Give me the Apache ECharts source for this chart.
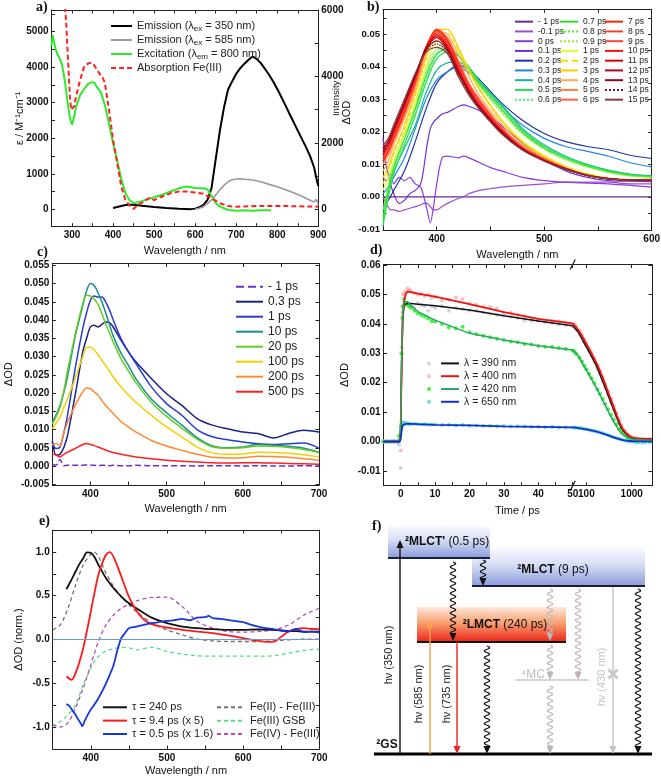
<!DOCTYPE html>
<html><head><meta charset="utf-8">
<script src="https://cdn.jsdelivr.net/npm/echarts@6/dist/echarts.min.js"></script>
<style>html,body{margin:0;padding:0;background:#fff}#c{width:661px;height:783px}</style>
</head><body><div id="c"></div>
<script>
const FF = '"Liberation Sans", Arial, Helvetica, sans-serif';
const FSERIF = '"Liberation Serif", "Times New Roman", serif';

// ---------------- Panel a ----------------
const A_X_LABELS = [300, 400, 500, 600, 700, 800, 900];
const A_X_TICKS = [300, 350, 400, 450, 500, 550, 600, 650, 700, 750, 800, 850, 900];
const A_YL_LABELS = [0, 1000, 2000, 3000, 4000, 5000];
const A_YL_TICKS = [0, 500, 1000, 1500, 2000, 2500, 3000, 3500, 4000, 4500, 5000, 5500];
const A_YR_LABELS = [0, 2000, 4000, 6000];
const A_YR_TICKS = [0, 1000, 2000, 3000, 4000, 5000, 6000];
const A_EM350_WL = [400,420,430,440,450,470,500,530,560,590,600,610,620,630,640,650,660,670,680,690,700,710,720,730,740,750,760,770,780,790,800,810,820,830,840,850,860,870,880,890,895,900];
const A_EM350 = [40,100,130,140,135,110,70,40,15,5,20,60,130,280,650,1500,2350,3050,3600,3850,4080,4250,4380,4500,4600,4530,4400,4230,4050,3850,3620,3380,3130,2870,2620,2370,2120,1870,1600,1250,950,700];
const A_EM585_WL = [600,610,620,630,640,650,660,670,680,690,700,710,720,740,760,780,800,820,840,860,880,890,895,900];
const A_EM585 = [5,30,80,170,280,430,580,720,830,890,910,915,905,880,830,750,680,590,500,390,270,220,300,150];
const A_EXC_WL = [250,253,256,260,265,270,275,280,285,290,295,300,305,310,320,330,340,350,355,360,365,370,380,390,400,410,420,430,440,450,460,470,480,500,520,540,560,580,600,620,630,640,650,660,670,680,700,720,740,760,785];
const A_EXC = [4600,4900,4950,4500,4350,4250,4100,3800,3400,2950,2550,2380,2600,2900,3220,3400,3540,3580,3560,3450,3380,3300,2940,2420,1860,1380,850,450,260,170,200,230,270,340,410,500,590,640,600,590,560,380,180,80,30,-20,-40,-30,-40,-30,-30];
const A_ABS_WL = [283,286,289,292,295,298,300,305,310,320,330,340,350,360,365,370,375,380,390,400,410,420,430,440,450,460,470,480,490,500,520,540,560,580,600,620,640,660,680,700,750,800,850,900];
const A_ABS = [5700,5200,4500,3800,3150,2800,2760,2900,3180,3650,4030,4110,4120,3950,3860,3760,3700,3560,2800,1960,1300,640,260,110,10,120,180,260,330,260,360,450,500,500,470,440,310,170,90,75,90,95,85,75];

// ---------------- Panel b ----------------
const B_X_LABELS = [400, 500, 600];
const B_X_TICKS = [400, 450, 500, 550, 600];
const B_Y_LABELS = [-0.01, 0, 0.01, 0.02, 0.03, 0.04, 0.05];
const B_Y_TICKS = [-0.005, 0, 0.005, 0.01, 0.015, 0.02, 0.025, 0.03, 0.035, 0.04, 0.045, 0.05, 0.055];
const B_WL = [350,355,360,370,380,390,400,410,420,430,440,460,480,500,520,540,560,580,600];
const B_WLP = [350,353,357,360,365,370,375,380,385,388,391,394,397,400,405,410,420,425,430,440,450,460,480,500,520,540,560,580,600];
const B_M1 = [0,0,0,0,0,0,0,0,0,0,0,0,0,0,0,0,0,0,0];
const B_M01 = [0,-0.002,-0.004,-0.004,-0.0045,-0.004,-0.0035,-0.003,-0.0025,-0.002,-0.002,-0.003,-0.004,-0.004,-0.003,-0.002,-0.0005,0,0.001,0.002,0.0025,0.003,0.0035,0.004,0.0045,0.0045,0.0045,0.004,0.004];
const B_0 = [0.006,0.005,0.007,0.004,0.006,0.005,0.006,0.004,0.003,0,-0.004,-0.008,-0.003,0.004,0.012,0.0125,0.012,0.0125,0.012,0.0105,0.009,0.008,0.006,0.005,0.0045,0.0042,0.004,0.0035,0.003];
const B_01 = [0.018,0.010,0.004,0.001,-0.002,-0.001,0.001,0.002,0.004,0.009,0.016,0.021,0.023,0.024,0.0255,0.026,0.0278,0.0283,0.0278,0.0265,0.0245,0.022,0.0165,0.0115,0.008,0.006,0.005,0.0048,0.0047];
const B_02 = [-0.003,-0.001,0.002,0.008,0.017,0.027,0.035,0.0385,0.0405,0.039,0.036,0.029,0.0235,0.0195,0.017,0.0155,0.0145,0.0128,0.0118];
const B_03 = [0.001,0.003,0.006,0.012,0.021,0.030,0.036,0.0385,0.040,0.038,0.035,0.028,0.022,0.018,0.0155,0.014,0.0125,0.0105,0.0092];
const B_04 = [-0.004,0.002,0.008,0.015,0.022,0.032,0.039,0.0412,0.0415,0.039,0.0355,0.0285,0.021,0.016,0.0125,0.0100,0.0082,0.0070,0.0065];
const B_05 = [-0.009,0,0.007,0.016,0.025,0.035,0.0425,0.0445,0.0435,0.040,0.0355,0.028,0.0205,0.0155,0.0122,0.0098,0.008,0.0068,0.0063];
const B_06 = [-0.008,0.001,0.008,0.017,0.026,0.036,0.0435,0.045,0.0435,0.0395,0.035,0.0275,0.020,0.0152,0.012,0.0096,0.0078,0.0067,0.0062];
const B_07 = [-0.007,0.002,0.009,0.018,0.027,0.037,0.044,0.0455,0.0435,0.039,0.0345,0.027,0.0198,0.015,0.0118,0.0094,0.0077,0.0066,0.0062];
const B_08 = [-0.006,0.003,0.010,0.019,0.028,0.038,0.045,0.046,0.0435,0.0385,0.034,0.0265,0.0195,0.0148,0.0116,0.0093,0.0076,0.0065,0.0061];
const B_09 = [-0.004,0.004,0.011,0.020,0.029,0.039,0.046,0.0468,0.0438,0.0385,0.0338,0.026,0.0192,0.0145,0.0113,0.0091,0.0075,0.0064,0.0060];
const B_1 = [0.002,0.006,0.011,0.019,0.029,0.040,0.048,0.0485,0.045,0.039,0.033,0.024,0.0172,0.0128,0.0095,0.0072,0.0058,0.0054,0.0055];
const B_2 = [0.004,0.008,0.013,0.021,0.031,0.042,0.0505,0.0505,0.0455,0.0385,0.0328,0.0235,0.0168,0.0125,0.0092,0.007,0.0056,0.0052,0.0054];
const B_3 = [0.006,0.009,0.014,0.022,0.032,0.043,0.0515,0.0515,0.046,0.039,0.033,0.0235,0.0167,0.0123,0.009,0.0068,0.0055,0.0051,0.0054];
const B_4 = [0.008,0.011,0.016,0.024,0.033,0.044,0.0515,0.050,0.044,0.037,0.031,0.0225,0.016,0.012,0.0089,0.0068,0.0056,0.0052,0.0053];
const B_5 = [0.010,0.013,0.017,0.025,0.034,0.045,0.0512,0.049,0.042,0.035,0.030,0.0215,0.0155,0.0117,0.0088,0.0067,0.0056,0.0052,0.0053];
const B_6 = [0.011,0.014,0.018,0.026,0.035,0.0455,0.0514,0.0485,0.0415,0.0345,0.0295,0.0213,0.0153,0.0116,0.0088,0.0067,0.0056,0.0052,0.0053];
const B_7 = [0.011,0.014,0.018,0.026,0.0355,0.046,0.0515,0.048,0.041,0.034,0.029,0.021,0.015,0.0115,0.0087,0.0067,0.0056,0.0052,0.0053];
const B_8 = [0.012,0.015,0.019,0.027,0.036,0.046,0.051,0.0475,0.0405,0.034,0.029,0.021,0.015,0.0115,0.0087,0.0067,0.0056,0.0052,0.0053];
const B_9 = [0.012,0.015,0.019,0.027,0.036,0.046,0.0505,0.047,0.040,0.0335,0.0285,0.0208,0.0149,0.0114,0.0087,0.0067,0.0056,0.0052,0.0053];
const B_10 = [0.013,0.016,0.020,0.028,0.0365,0.046,0.050,0.0465,0.0395,0.033,0.028,0.0205,0.0148,0.0113,0.0086,0.0066,0.0056,0.0052,0.0053];
const B_11 = [0.013,0.016,0.020,0.028,0.037,0.0458,0.0495,0.046,0.039,0.0328,0.0278,0.0203,0.0147,0.0112,0.0086,0.0066,0.0056,0.0052,0.0053];
const B_12 = [0.014,0.017,0.021,0.029,0.037,0.0455,0.049,0.0455,0.0385,0.0325,0.0276,0.0201,0.0146,0.0112,0.0085,0.0066,0.0055,0.0052,0.0053];
const B_13 = [0.015,0.017,0.021,0.029,0.0375,0.0452,0.048,0.045,0.038,0.032,0.0272,0.0199,0.0145,0.0111,0.0085,0.0066,0.0055,0.0052,0.0053];
const B_14 = [0.015,0.018,0.022,0.030,0.0375,0.0448,0.047,0.0445,0.0375,0.0316,0.027,0.0197,0.0144,0.011,0.0085,0.0066,0.0055,0.0052,0.0053];
const B_15 = [0.016,0.018,0.022,0.030,0.038,0.0445,0.046,0.044,0.037,0.0312,0.0268,0.0195,0.0143,0.011,0.0084,0.0066,0.0055,0.0052,0.0053];
// name, wavelengths, values, colour, line type, width
const B_SERIES = [
  ['- 1 ps', B_WL, B_M1, '#6a2c8c', 'solid', 1.2],
  ['-0.1 ps', B_WLP, B_M01, '#9a50d0', 'solid', 1.2],
  ['0 ps', B_WLP, B_0, '#8a3ce6', 'solid', 1.2],
  ['0.1 ps', B_WLP, B_01, '#6f2fd6', 'solid', 1.2],
  ['0.2 ps', B_WL, B_02, '#2233aa', 'solid', 1.2],
  ['0.3 ps', B_WL, B_03, '#1e88e5', 'solid', 1.2],
  ['0.4 ps', B_WL, B_04, '#16b890', 'solid', 1.2],
  ['0.5 ps', B_WL, B_05, '#22dd55', 'solid', 1.2],
  ['0.6 ps', B_WL, B_06, '#44ee66', 'dotted', 1.3],
  ['0.7 ps', B_WL, B_07, '#33dd33', 'solid', 1.2],
  ['0.8 ps', B_WL, B_08, '#55ee22', 'dotted', 1.3],
  ['0.9 ps', B_WL, B_09, '#99ee33', 'dotted', 1.3],
  ['1 ps', B_WL, B_1, '#ddff33', 'solid', 1.2],
  ['2 ps', B_WL, B_2, '#f0e000', 'dashed', 1.2],
  ['3 ps', B_WL, B_3, '#ffcc00', 'solid', 1.2],
  ['4 ps', B_WL, B_4, '#ffaa55', 'solid', 1.2],
  ['5 ps', B_WL, B_5, '#ff8040', 'solid', 1.2],
  ['6 ps', B_WL, B_6, '#ff6050', 'solid', 1.8],
  ['7 ps', B_WL, B_7, '#ff2200', 'solid', 1.2],
  ['8 ps', B_WL, B_8, '#ee4433', 'solid', 1.2],
  ['9 ps', B_WL, B_9, '#ff4040', 'solid', 1.2],
  ['10 ps', B_WL, B_10, '#ff1010', 'solid', 1.2],
  ['11 ps', B_WL, B_11, '#e00000', 'solid', 1.2],
  ['12 ps', B_WL, B_12, '#b8001a', 'solid', 1.2],
  ['13 ps', B_WL, B_13, '#9a0020', 'solid', 1.2],
  ['14 ps', B_WL, B_14, '#7a1020', 'dotted', 1.3],
  ['15 ps', B_WL, B_15, '#804040', 'solid', 1.2]
];

// ---------------- Panel c ----------------
const C_X_LABELS = [400, 500, 600, 700];
const C_X_TICKS = [400, 450, 500, 550, 600, 650, 700];
const C_Y_LABELS = [-0.005, 0, 0.005, 0.01, 0.015, 0.02, 0.025, 0.03, 0.035, 0.04, 0.045, 0.05, 0.055];
const C_WL = [350,355,360,365,370,380,390,395,400,405,410,415,420,425,430,440,450,460,480,500,520,540,560,580,600,620,640,660,680,700];
const C_M1 = [0.0005,0.0002,0.0018,0.0001,0.0002,0.0002,0.0002,0.0003,0.0002,0.0002,0.0001,0.0002,0.0002,0.0001,0.0002,0.0001,0.0001,0.0002,0.0001,0.0001,0.0001,0,0.0001,0.0001,0,0.0001,0,0,0.0001,0];
const C_03 = [0.0068,0.003,0.0032,0.005,0.0084,0.0194,0.0313,0.035,0.0381,0.0386,0.0381,0.0388,0.0395,0.0393,0.0381,0.0345,0.0313,0.0285,0.024,0.0198,0.0166,0.013,0.0112,0.0102,0.0093,0.0089,0.0077,0.0089,0.0098,0.0093];
const C_1 = [0.0066,0.0048,0.0052,0.009,0.0139,0.0267,0.0377,0.042,0.0454,0.0466,0.0463,0.0463,0.045,0.0428,0.040,0.035,0.0313,0.028,0.0217,0.0171,0.0139,0.0100,0.0080,0.0072,0.0066,0.0061,0.0059,0.0061,0.0063,0.0049];
const C_10 = [0.012,0.014,0.0165,0.020,0.0245,0.0355,0.044,0.048,0.050,0.0495,0.0475,0.045,0.042,0.0388,0.0356,0.031,0.0275,0.0238,0.0184,0.0146,0.0112,0.0078,0.0055,0.0050,0.0052,0.0059,0.0057,0.0054,0.0049,0.0038];
const C_20 = [0.0115,0.0135,0.016,0.0205,0.026,0.036,0.0445,0.0468,0.0466,0.0458,0.0443,0.0418,0.039,0.0365,0.034,0.0295,0.026,0.0228,0.0175,0.0136,0.0104,0.0074,0.0053,0.0049,0.0050,0.0055,0.0054,0.0051,0.0045,0.0037];
const C_100 = [0.0102,0.0118,0.0134,0.016,0.0185,0.024,0.030,0.0325,0.0326,0.0318,0.0305,0.029,0.0276,0.026,0.0244,0.0217,0.0194,0.0174,0.0139,0.0107,0.008,0.0052,0.0036,0.0032,0.0033,0.0038,0.0037,0.0035,0.0031,0.0025];
const C_200 = [0.0057,0.0062,0.0055,0.009,0.012,0.0166,0.0203,0.0214,0.0212,0.0203,0.0194,0.018,0.0166,0.0155,0.0144,0.0122,0.0107,0.0093,0.007,0.0055,0.0043,0.0032,0.0024,0.0022,0.0023,0.0027,0.0026,0.0024,0.002,0.0016];
const C_500 = [0.0034,0.003,0.0025,0.0032,0.0038,0.0048,0.0059,0.0062,0.0059,0.0056,0.0052,0.0048,0.0044,0.0040,0.0037,0.0032,0.0028,0.0025,0.002,0.0016,0.0013,0.0011,0.0009,0.0008,0.0009,0.0009,0.0008,0.0007,0.0006,0.0005];
const C_SERIES = [
  ['- 1 ps', C_M1, '#6a30c8', 'dashed'],
  ['0.3 ps', C_03, '#1c2088', 'solid'],
  ['1 ps', C_1, '#2a3bd0', 'solid'],
  ['10 ps', C_10, '#168f8f', 'solid'],
  ['20 ps', C_20, '#66cc22', 'solid'],
  ['100 ps', C_100, '#f2d000', 'solid'],
  ['200 ps', C_200, '#ff8833', 'solid'],
  ['500 ps', C_500, '#ff2020', 'solid']
];

// ---------------- Panel d ----------------
const D_X_LABELS = [0, 10, 20, 30, 40, 50];
const D_X_TICKS = [0, 5, 10, 15, 20, 25, 30, 35, 40, 45, 50];
const D_XL_LABELS = [100, 1000];
const D_Y_LABELS = [-0.01, 0, 0.01, 0.02, 0.03, 0.04, 0.05, 0.06];
const D_FIT_T = [-5,-0.3,0,0.3,0.6,1,1.5,2,3,5,10,20,30,40,50];
const D_FIT_390 = [0,0,0.004,0.028,0.042,0.0465,0.047,0.047,0.0469,0.0467,0.0462,0.0447,0.0428,0.041,0.0394];
const D_FIT_400 = [0,0,0.004,0.028,0.043,0.048,0.0502,0.051,0.0508,0.0503,0.0493,0.0467,0.044,0.0417,0.0402];
const D_FIT_420 = [0,0,0.005,0.030,0.044,0.0475,0.048,0.0475,0.0462,0.0442,0.0413,0.0368,0.0345,0.0326,0.0311];
const D_FIT_650 = [0,0,0.001,0.004,0.0055,0.006,0.006,0.006,0.006,0.0059,0.0057,0.0055,0.0052,0.005,0.0048];
const D_FIT_TL = [50,66,86,120,169,218,281,362,467,552,653,917,1280,2800];
const D_FITL_390 = [0.0394,0.0372,0.034,0.030,0.0255,0.0213,0.017,0.0125,0.0082,0.0055,0.0036,0.0016,0.001,0.0008];
const D_FITL_400 = [0.0402,0.038,0.0351,0.031,0.0266,0.0226,0.0181,0.0136,0.009,0.0062,0.004,0.0017,0.0011,0.0009];
const D_FITL_420 = [0.0311,0.0292,0.026,0.0222,0.0181,0.0147,0.0113,0.0079,0.0051,0.0034,0.0023,0.0011,0.0007,0.0005];
const D_FITL_650 = [0.0048,0.0046,0.0043,0.0039,0.0034,0.0029,0.0023,0.0017,0.0011,0.0008,0.0005,0.0002,0.0001,0];
const D_PT_T = [-5,-4,-3,-2,-1,-0.5,0,0.25,0.5,0.75,1,1.5,2,2.5,3,4,5,6,7,8,9,10,12,14,16,18,20,22,24,26,28,30,32,34,36,38,40,42,44,46,48,50];
const D_PT_390 = [0,0,0,0,0,-0.001,-0.009,0.03,0.044,0.046,0.047,0.0465,0.047,0.0465,0.046,0.0455,0.047,0.0465,0.046,0.0445,0.046,0.0455,0.046,0.0445,0.0455,0.045,0.0445,0.0445,0.044,0.0435,0.043,0.0428,0.0425,0.042,0.0412,0.041,0.041,0.0405,0.0402,0.0398,0.0395,0.0392];
const D_PT_400 = [0,0.0002,0,0.0003,0,0.001,-0.003,0.032,0.046,0.050,0.0505,0.051,0.052,0.0515,0.0512,0.0505,0.050,0.0502,0.0495,0.050,0.0488,0.0492,0.048,0.0483,0.049,0.0485,0.047,0.0465,0.046,0.0458,0.0452,0.0438,0.044,0.0432,0.0425,0.0418,0.0415,0.041,0.041,0.0408,0.0405,0.0398];
const D_PT_420 = [0,0,0,0,0,0.002,0.005,0.03,0.042,0.046,0.0485,0.047,0.0465,0.046,0.0455,0.0445,0.0435,0.043,0.0425,0.0418,0.041,0.0408,0.040,0.0388,0.0385,0.039,0.0372,0.0365,0.036,0.0355,0.035,0.0345,0.034,0.0338,0.0332,0.033,0.0325,0.0322,0.0322,0.0318,0.0315,0.031];
const D_PT_650 = [0,0,0,0,0,0.0003,0.004,0.006,0.0065,0.0064,0.0063,0.0062,0.0062,0.006,0.006,0.0061,0.006,0.0058,0.0059,0.0057,0.0058,0.0058,0.0056,0.0057,0.0055,0.0056,0.0054,0.0055,0.0053,0.0054,0.0052,0.0053,0.0051,0.0052,0.0051,0.005,0.005,0.0049,0.005,0.0048,0.0048,0.0047];
const D_PT_TL = [55,60,70,80,90,100,115,130,150,175,200,230,260,300,350,400,460,530,600,700,800,900,1000,1200,1400,1700,2000,2500];
const D_PTL_390 = [0.039,0.038,0.0365,0.0352,0.0338,0.0325,0.0308,0.0292,0.0272,0.0248,0.0228,0.0205,0.0184,0.016,0.0134,0.011,0.0085,0.0063,0.0048,0.0032,0.0022,0.0016,0.0012,0.001,0.0009,0.0009,0.0008,0.0008];
const D_PTL_400 = [0.04,0.0392,0.0378,0.0362,0.0348,0.0335,0.0318,0.0302,0.0283,0.026,0.024,0.0218,0.0197,0.0172,0.0145,0.0122,0.0096,0.0072,0.0055,0.0038,0.0027,0.002,0.0015,0.0012,0.001,0.001,0.0009,0.0009];
const D_PTL_420 = [0.0305,0.0298,0.0285,0.0272,0.0258,0.0246,0.023,0.0215,0.0198,0.0178,0.0162,0.0145,0.0128,0.011,0.0091,0.0075,0.0058,0.0043,0.0032,0.0022,0.0015,0.0011,0.0009,0.0007,0.0006,0.0006,0.0005,0.0005];
const D_PTL_650 = [0.0048,0.0047,0.0046,0.0045,0.0043,0.0042,0.004,0.0038,0.0036,0.0033,0.0031,0.0028,0.0025,0.0022,0.0018,0.0015,0.0012,0.0009,0.0007,0.0004,0.0002,0.0001,0,-0.0002,-0.0003,-0.0004,-0.0003,-0.0002];

// ---------------- Panel e ----------------
const E_X_LABELS = [400, 500, 600, 700];
const E_X_TICKS = [400, 450, 500, 550, 600, 650, 700];
const E_Y_LABELS = [-1.0, -0.5, 0.0, 0.5, 1.0];
const E_Y_TICKS = [-1.0, -0.75, -0.5, -0.25, 0, 0.25, 0.5, 0.75, 1.0];
const E_W = [368,375,380,385,390,395,400,405,410,415,420,425,430,440,450,460,470,480,490,500,520,540,550,560,580,600,620,630,640,650,660,670,680,690,700];
const E_240 = [0.574,0.69,0.776,0.86,0.928,0.995,0.99,0.94,0.852,0.775,0.70,0.64,0.585,0.49,0.414,0.357,0.30,0.25,0.215,0.186,0.148,0.129,0.122,0.118,0.11,0.11,0.114,0.113,0.11,0.105,0.099,0.095,0.091,0.09,0.09];
const E_94 = [-0.422,-0.46,-0.384,-0.26,-0.10,0.10,0.32,0.54,0.738,0.87,0.966,0.998,0.94,0.72,0.49,0.327,0.224,0.175,0.152,0.137,0.11,0.091,0.082,0.072,0.046,0.015,-0.015,-0.028,-0.025,0.03,0.095,0.122,0.129,0.12,0.118];
const E_WB = [368,372,376,380,384,387,389,392,396,400,405,410,415,420,425,430,435,440,445,450,455,460,470,480,490,500,510,520,530,540,550,555,560,570,580,590,600,610,620,630,640,650,660,670,680,690,700];
const E_05 = [-0.738,-0.76,-0.81,-0.86,-0.92,-0.96,-0.99,-0.93,-0.86,-0.80,-0.74,-0.67,-0.59,-0.50,-0.40,-0.29,-0.12,0.015,0.075,0.13,0.14,0.148,0.167,0.186,0.2,0.213,0.22,0.236,0.22,0.25,0.255,0.27,0.243,0.235,0.224,0.21,0.198,0.17,0.148,0.13,0.118,0.10,0.091,0.12,0.084,0.09,0.08];
const E_WD = [350,360,370,380,390,400,404,410,420,430,440,450,460,480,500,520,540,560,580,600,620,640,660,680,700];
const E_FE2 = [0.11,0.167,0.357,0.62,0.85,0.973,1.0,0.947,0.757,0.605,0.49,0.395,0.32,0.186,0.11,0.053,0.004,-0.015,-0.023,-0.023,-0.023,-0.015,-0.004,0.004,0.004];
const E_GSB = [-1.0,-0.935,-0.86,-0.745,-0.517,-0.327,-0.26,-0.194,-0.13,-0.106,-0.09,-0.095,-0.118,-0.09,-0.137,-0.167,-0.186,-0.19,-0.19,-0.19,-0.19,-0.186,-0.156,-0.125,-0.106];
const E_FE4 = [-0.97,-1.0,-0.95,-0.78,-0.555,-0.29,-0.18,-0.023,0.167,0.28,0.357,0.40,0.44,0.48,0.483,0.376,0.205,0.13,0.091,0.084,0.091,0.11,0.167,0.28,0.357];

// ---------------- Panel f (schematic) ----------------
const F_BOXES = [
  { name: '²MLCT', life: '(9 ps)', x0: 98, x1: 271, yLow: 174, yHigh: 213, tone: 'blue', lx: 179, ly: 190, align: 'center' },
  { name: "²MLCT'", life: '(0.5 ps)', x0: 14, x1: 116, yLow: 202, yHigh: 235, tone: 'blue', lx: 31, ly: 218, align: 'left' },
  { name: '²LMCT', life: '(240 ps)', x0: 43, x1: 192, yLow: 118, yHigh: 153, tone: 'red', lx: 131, ly: 135, align: 'center' }
];
const F_LEVELS = [
  { name: '2GS', x0: 0, x1: 278, y: 6, color: '#000000', width: 3 },
  { name: '4MC', x0: 141, x1: 215, y: 80, color: '#c8c8c8', width: 1.5 }
];
const F_ARROWS = [
  { x: 26, from: 6, to: 220, kind: 'straight', color: '#111111' },
  { x: 56, from: 6, to: 140, kind: 'straight', color: '#f7a14a' },
  { x: 83, from: 118, to: 6, kind: 'straight', color: '#ee2222' },
  { x: 79, from: 198, to: 119, kind: 'wavy', color: '#111111' },
  { x: 109, from: 200, to: 174, kind: 'wavy', color: '#111111' },
  { x: 113, from: 114, to: 6, kind: 'wavy', color: '#111111' },
  { x: 176, from: 171, to: 119, kind: 'wavy', color: '#b8b8b8' },
  { x: 176, from: 115, to: 80, kind: 'wavy', color: '#b8b8b8' },
  { x: 176, from: 74, to: 6, kind: 'wavy', color: '#b8b8b8' },
  { x: 204, from: 171, to: 80, kind: 'wavy', color: '#c4b2b2' },
  { x: 239, from: 173, to: 6, kind: 'straight', color: '#c4c4c4', cross: 86 },
  { x: 264, from: 171, to: 6, kind: 'wavy', color: '#111111' }
];
const F_LABELS = [
  { text: '{b|²GS}', x: 13, y: 15, color: '#111111', rot: false },
  { text: '⁴MC', x: 159, y: 85, color: '#bdbdbd', rot: false },
  { text: 'hν (350 nm)', x: 15, y: 105, color: '#222222', rot: true },
  { text: 'hν (585 nm)', x: 45, y: 66, color: '#222222', rot: true },
  { text: 'hν (735 nm)', x: 73, y: 66, color: '#222222', rot: true },
  { text: 'hν (430 nm)', x: 228, y: 83, color: '#c4c4c4', rot: true }
];

// ---------------- helpers ----------------
const zip = (xs, ys) => xs.map((x, i) => [x, ys[i]]);
function ax(o) {
  return {
    type: o.log ? 'log' : 'value', logBase: 10,
    gridIndex: o.g, position: o.pos, min: o.min, max: o.max,
    name: o.name || '', nameLocation: 'middle', nameGap: o.nameGap || 0, nameRotate: o.nameRotate,
    nameMoveOverlap: false,
    nameTextStyle: { fontFamily: FF, fontSize: o.nameFs || 11, color: '#111', padding: o.namePad || 0 },
    axisLine: { show: true, onZero: false, lineStyle: { color: '#222', width: 1 } },
    axisTick: { show: true, inside: true, length: 3.5, customValues: o.ticks, lineStyle: { color: '#222', width: 1 } },
    minorTick: { show: false },
    axisLabel: { show: !!o.labels, customValues: o.labels, margin: o.margin == null ? 3 : o.margin, hideOverlap: false,
      fontFamily: FF, fontSize: o.fs || 10, fontWeight: 'bold', color: '#111', formatter: o.fmt },
    splitLine: { show: false }, splitArea: { show: false }, silent: true
  };
}
function L(name, xi, yi, xs, ys, color, w, type, smooth, extra) {
  return Object.assign({
    type: 'line', name, xAxisIndex: xi, yAxisIndex: yi, data: zip(xs, ys),
    showSymbol: false, symbol: 'none', smooth: smooth || false,
    lineStyle: { color, width: w, type: type || 'solid' }, itemStyle: { color },
    emphasis: { disabled: true }, silent: true, animation: false
  }, extra || {});
}
function S(name, xi, yi, xs, ys, color, op) {
  return { type: 'scatter', name, xAxisIndex: xi, yAxisIndex: yi, data: zip(xs, ys), symbol: 'circle', symbolSize: 4,
    itemStyle: { color, opacity: op }, emphasis: { disabled: true }, silent: true, animation: false, z: 1 };
}
function lg(o) {
  const r = { show: true, orient: 'vertical', left: o.left, top: o.top, data: o.data, itemWidth: o.iw, itemHeight: o.ih || 2,
    itemGap: 0, padding: 0, selectedMode: false, formatter: o.fmt,
    textStyle: { fontFamily: FF, fontSize: o.fs, lineHeight: o.lh, color: '#222', rich: o.rich } };
  if (o.icon) r.icon = o.icon; else r.itemStyle = { opacity: 0 };
  return r;
}
const f0 = v => String(Math.round(v));
const f1 = v => v.toFixed(1);
const f2 = v => v.toFixed(2);
const f3 = v => v.toFixed(3);

const xAxis = [
  ax({ g: 0, pos: 'bottom', min: 250, max: 900, labels: A_X_LABELS, ticks: A_X_TICKS, fmt: f0, name: 'Wavelength / nm', nameGap: 19, margin: 4 }),
  ax({ g: 0, pos: 'top', min: 250, max: 900, ticks: A_X_TICKS }),
  ax({ g: 1, pos: 'bottom', min: 350, max: 600, labels: B_X_LABELS, ticks: B_X_TICKS, fmt: f0, name: 'Wavelength / nm', nameGap: 19, margin: 4 }),
  ax({ g: 1, pos: 'top', min: 350, max: 600, ticks: B_X_TICKS }),
  ax({ g: 2, pos: 'bottom', min: 350, max: 700, labels: C_X_LABELS, ticks: C_X_TICKS, fmt: f0, name: 'Wavelength / nm', nameGap: 18, margin: 4 }),
  ax({ g: 2, pos: 'top', min: 350, max: 700, ticks: C_X_TICKS }),
  ax({ g: 3, pos: 'bottom', min: -5, max: 50, labels: D_X_LABELS, ticks: D_X_TICKS, fmt: f0, margin: 4 }),
  ax({ g: 3, pos: 'top', min: -5, max: 50, ticks: D_X_TICKS }),
  ax({ g: 4, pos: 'bottom', log: true, min: 50, max: 2800, labels: D_XL_LABELS, ticks: D_XL_LABELS, fmt: f0, margin: 4 }),
  ax({ g: 4, pos: 'top', log: true, min: 50, max: 2800, ticks: D_XL_LABELS }),
  ax({ g: 5, pos: 'bottom', min: 350, max: 700, labels: E_X_LABELS, ticks: E_X_TICKS, fmt: f0, name: 'Wavelength / nm', nameGap: 16, margin: 4 }),
  ax({ g: 5, pos: 'top', min: 350, max: 700, ticks: E_X_TICKS }),
  { type: 'value', gridIndex: 6, min: 0, max: 278, show: false }
];
const yAxis = [
  ax({ g: 0, pos: 'left', min: -490, max: 5611, labels: A_YL_LABELS, ticks: A_YL_TICKS, fmt: f0, name: 'ε / M⁻¹cm⁻¹', nameGap: 26 }),
  ax({ g: 0, pos: 'right', min: -524, max: 6000, labels: A_YR_LABELS, ticks: A_YR_TICKS, fmt: f0, name: 'Intensity', nameGap: 13, nameRotate: 90, nameFs: 9.5, namePad: [0, 0, 0, 40] }),
  ax({ g: 1, pos: 'left', min: -0.0102, max: 0.0577, labels: B_Y_LABELS, ticks: B_Y_TICKS, fmt: f2, fs: 9.5, name: 'ΔOD', nameGap: 31, namePad: [0, 0, 0, 14] }),
  ax({ g: 1, pos: 'right', min: -0.0102, max: 0.0577, ticks: B_Y_TICKS }),
  ax({ g: 2, pos: 'left', min: -0.0052, max: 0.0555, labels: C_Y_LABELS, ticks: C_Y_LABELS, fmt: f3, name: 'ΔOD', nameGap: 38 }),
  ax({ g: 2, pos: 'right', min: -0.0052, max: 0.0555, ticks: C_Y_LABELS }),
  ax({ g: 3, pos: 'left', min: -0.015, max: 0.0602, labels: D_Y_LABELS, ticks: D_Y_LABELS, fmt: f2, name: 'ΔOD', nameGap: 33 }),
  ax({ g: 4, pos: 'right', min: -0.015, max: 0.0602, ticks: D_Y_LABELS }),
  ax({ g: 5, pos: 'left', min: -1.25, max: 1.25, labels: E_Y_LABELS, ticks: E_Y_TICKS, fmt: f1, name: 'ΔOD (norm.)', nameGap: 28 }),
  ax({ g: 5, pos: 'right', min: -1.25, max: 1.25, ticks: E_Y_TICKS }),
  { type: 'value', gridIndex: 6, min: 0, max: 240, show: false }
];
const gridBase = { containLabel: false, outerBoundsMode: 'none', show: false };
const grid = [
  Object.assign({ left: 51.5, top: 10, width: 266.8, height: 216.7 }, gridBase),
  Object.assign({ left: 383, top: 9.3, width: 268.7, height: 220.7 }, gridBase),
  Object.assign({ left: 52.3, top: 263.5, width: 266.7, height: 221.5 }, gridBase),
  Object.assign({ left: 383.5, top: 264.5, width: 189.2, height: 221.2 }, gridBase),
  Object.assign({ left: 572.7, top: 264.5, width: 79.3, height: 221.2 }, gridBase),
  Object.assign({ left: 52.7, top: 530, width: 266.6, height: 219 }, gridBase),
  Object.assign({ left: 374, top: 520, width: 278, height: 240 }, gridBase)
];

const series = [];
// a
series.push(L('Emission 350', 0, 1, A_EM350_WL, A_EM350, '#000000', 2));
series.push(L('Emission 585', 0, 1, A_EM585_WL, A_EM585, '#9a9a9a', 1.6));
series.push(L('Excitation', 0, 0, A_EXC_WL, A_EXC, '#2eea2e', 2));
series.push(L('Absorption', 0, 0, A_ABS_WL, A_ABS, '#ff2020', 2, [5, 3]));
// b
B_SERIES.forEach(s => series.push(L(s[0], 2, 2, s[1], s[2], s[3], s[5], s[4], 0.3)));
// c
C_SERIES.forEach(s => series.push(L('c' + s[0], 4, 4, C_WL, s[1], s[2], 1.5, s[3], 0.3)));
// d scatter
series.push(S('p390', 6, 6, D_PT_T, D_PT_390, '#aeb0cc', 0.55));
series.push(S('p400', 6, 6, D_PT_T, D_PT_400, '#f09090', 0.55));
series.push(S('p420', 6, 6, D_PT_T, D_PT_420, '#22ee22', 0.85));
series.push(S('p650', 6, 6, D_PT_T, D_PT_650, '#40d0c0', 0.7));
series.push(S('p390', 8, 7, D_PT_TL, D_PTL_390, '#aeb0cc', 0.55));
series.push(S('p400', 8, 7, D_PT_TL, D_PTL_400, '#f09090', 0.55));
series.push(S('p420', 8, 7, D_PT_TL, D_PTL_420, '#22ee22', 0.85));
series.push(S('p650', 8, 7, D_PT_TL, D_PTL_650, '#40d0c0', 0.7));
// d fits
series.push(L('λ = 390 nm', 6, 6, D_FIT_T, D_FIT_390, '#111111', 1.5));
series.push(L('λ = 400 nm', 6, 6, D_FIT_T, D_FIT_400, '#ee1111', 1.8));
series.push(L('λ = 420 nm', 6, 6, D_FIT_T, D_FIT_420, '#2aa860', 1.5));
series.push(L('λ = 650 nm', 6, 6, D_FIT_T, D_FIT_650, '#1030d0', 1.8));
series.push(L('λ = 390 nm', 8, 7, D_FIT_TL, D_FITL_390, '#111111', 1.5, 'solid', 0.3));
series.push(L('λ = 400 nm', 8, 7, D_FIT_TL, D_FITL_400, '#ee1111', 1.8, 'solid', 0.3));
series.push(L('λ = 420 nm', 8, 7, D_FIT_TL, D_FITL_420, '#2aa860', 1.5, 'solid', 0.3));
series.push(L('λ = 650 nm', 8, 7, D_FIT_TL, D_FITL_650, '#1030d0', 1.8, 'solid', 0.3));
// e
series.push(L('Fe(II) - Fe(III)', 10, 8, E_WD, E_FE2, '#707070', 1.3, [4, 3], 0.3));
series.push(L('Fe(III) GSB', 10, 8, E_WD, E_GSB, '#55dd88', 1.3, [4, 3], 0.3));
series.push(L('Fe(IV) - Fe(III)', 10, 8, E_WD, E_FE4, '#b050b8', 1.3, [4, 3], 0.3));
series.push(L('τ = 240 ps', 10, 8, E_W, E_240, '#111111', 1.8, 'solid', 0.3, {
  markLine: { silent: true, symbol: 'none', label: { show: false }, lineStyle: { color: '#6a9bd8', width: 1, type: 'solid' }, data: [{ yAxis: 0 }] }
}));
series.push(L('τ = 9.4 ps (x 5)', 10, 8, E_W, E_94, '#ff1a1a', 1.8, 'solid', 0.3));
series.push(L('τ = 0.5 ps (x 1.6)', 10, 8, E_WB, E_05, '#1535e0', 1.8, 'solid', 0.2));

// f: boxes
series.push({
  type: 'custom', xAxisIndex: 12, yAxisIndex: 10, silent: true, clip: false, animation: false,
  data: F_BOXES.map((b, i) => [b.x0, b.x1, b.yLow, b.yHigh, i]),
  encode: { x: [0, 1], y: [2, 3] },
  renderItem: (p, api) => {
    const b = F_BOXES[api.value(4)];
    const tl = api.coord([b.x0, b.yHigh]), br = api.coord([b.x1, b.yLow]), lp = api.coord([b.lx, b.ly]);
    const fill = b.tone === 'blue'
      ? new echarts.graphic.LinearGradient(0, 0, 0, 1, [{ offset: 0, color: '#fbfcff' }, { offset: 0.45, color: '#d7ddf4' }, { offset: 1, color: '#8a9cdc' }])
      : new echarts.graphic.LinearGradient(0, 0, 0, 1, [{ offset: 0, color: '#fde9de' }, { offset: 0.45, color: '#f8a070' }, { offset: 1, color: '#ec2418' }]);
    return { type: 'group', children: [
      { type: 'rect', shape: { x: tl[0], y: tl[1], width: br[0] - tl[0], height: br[1] - tl[1] }, style: { fill } },
      { type: 'line', shape: { x1: tl[0], y1: br[1], x2: br[0], y2: br[1] }, style: { stroke: b.tone === 'blue' ? '#1c1c40' : '#111', lineWidth: 2 } },
      { type: 'text', style: { text: '{b|' + b.name + '} ' + b.life, x: lp[0], y: lp[1], align: b.align, verticalAlign: 'middle',
        fontFamily: FF, fontSize: 12, fill: '#111', rich: { b: { fontFamily: FF, fontSize: 12, fontWeight: 'bold', fill: '#111' } } } }
    ] };
  }
});
// f: levels
series.push({
  type: 'custom', xAxisIndex: 12, yAxisIndex: 10, silent: true, clip: false, animation: false,
  data: F_LEVELS.map((l, i) => [l.x0, l.x1, l.y, i]), encode: { x: [0, 1], y: 2 },
  renderItem: (p, api) => {
    const l = F_LEVELS[api.value(3)];
    const a = api.coord([l.x0, l.y]), b = api.coord([l.x1, l.y]);
    return { type: 'line', shape: { x1: a[0], y1: a[1], x2: b[0], y2: b[1] }, style: { stroke: l.color, lineWidth: l.width } };
  }
});
// f: arrows
series.push({
  type: 'custom', xAxisIndex: 12, yAxisIndex: 10, silent: true, clip: false, animation: false,
  data: F_ARROWS.map((a, i) => [a.x, a.from, a.to, i]), encode: { x: 0, y: [1, 2] },
  renderItem: (p, api) => {
    const a = F_ARROWS[api.value(3)];
    const s = api.coord([a.x, a.from]), t = api.coord([a.x, a.to]);
    const x = s[0], dir = t[1] > s[1] ? 1 : -1, HL = 8, HW = 3.5;
    const children = [];
    const yEnd = t[1] - dir * HL * 0.8;
    if (a.kind === 'wavy') {
      const pts = []; const len = Math.abs(yEnd - s[1]);
      for (let d = 0; d <= len; d += 0.5) pts.push([x + 2.6 * Math.sin(2 * Math.PI * d / 6.6), s[1] + dir * d]);
      pts.push([x, yEnd]);
      children.push({ type: 'polyline', shape: { points: pts }, style: { stroke: a.color, lineWidth: 1.3, fill: null } });
    } else {
      children.push({ type: 'line', shape: { x1: x, y1: s[1], x2: x, y2: yEnd }, style: { stroke: a.color, lineWidth: 1.4 } });
    }
    children.push({ type: 'polygon', shape: { points: [[x, t[1]], [x - HW, t[1] - dir * HL], [x + HW, t[1] - dir * HL]] }, style: { fill: a.color } });
    if (a.cross != null) {
      const c = api.coord([a.x, a.cross]); const r = 4.5;
      children.push({ type: 'line', shape: { x1: x - r, y1: c[1] - r, x2: x + r, y2: c[1] + r }, style: { stroke: '#c8c8c8', lineWidth: 3 } });
      children.push({ type: 'line', shape: { x1: x - r, y1: c[1] + r, x2: x + r, y2: c[1] - r }, style: { stroke: '#c8c8c8', lineWidth: 3 } });
    }
    return { type: 'group', children };
  }
});
// f: labels
series.push({
  type: 'custom', xAxisIndex: 12, yAxisIndex: 10, silent: true, clip: false, animation: false, z: 5,
  data: F_LABELS.map((l, i) => [l.x, l.y, i]), encode: { x: 0, y: 1 },
  renderItem: (p, api) => {
    const l = F_LABELS[api.value(2)];
    const c = api.coord([l.x, l.y]);
    return { type: 'text', x: c[0], y: c[1], rotation: l.rot ? Math.PI / 2 : 0,
      style: { text: l.text, align: 'center', verticalAlign: 'middle', fontFamily: FF, fontSize: l.rot ? 11 : 12, fill: l.color,
        rich: { b: { fontFamily: FF, fontSize: 12, fontWeight: 'bold', fill: l.color } } } };
  }
});

const subRich = { sub: { fontFamily: FF, fontSize: 8, verticalAlign: 'bottom', lineHeight: 14, fill: '#222' } };
const legend = [
  lg({ left: 110, top: 19, data: ['Emission 350', 'Emission 585', 'Excitation', 'Absorption'], iw: 21, fs: 11, lh: 13.8, rich: subRich,
    fmt: n => ({ 'Emission 350': 'Emission (λ{sub|ex} = 350 nm)', 'Emission 585': 'Emission (λ{sub|ex} = 585 nm)',
      'Excitation': 'Excitation (λ{sub|em} = 800 nm)', 'Absorption': 'Absorption Fe(III)' })[n] }),
  lg({ left: 514, top: 16.8, data: B_SERIES.slice(0, 9).map(s => s[0]), iw: 18, fs: 8.5, lh: 9.75 }),
  lg({ left: 559, top: 16.8, data: B_SERIES.slice(9, 18).map(s => s[0]), iw: 18, fs: 8.5, lh: 9.75 }),
  lg({ left: 604, top: 16.8, data: B_SERIES.slice(18, 27).map(s => s[0]), iw: 18, fs: 8.5, lh: 9.75 }),
  lg({ left: 235, top: 279.2, data: C_SERIES.map(s => 'c' + s[0]), iw: 27, fs: 12, lh: 15, fmt: n => n.slice(1) }),
  lg({ left: 427, top: 357, data: ['p390', 'p400', 'p420', 'p650'], iw: 4, ih: 4, icon: 'circle', fs: 10.5, lh: 12.8, fmt: () => ' ' }),
  lg({ left: 440, top: 357, data: ['λ = 390 nm', 'λ = 400 nm', 'λ = 420 nm', 'λ = 650 nm'], iw: 18, fs: 10.5, lh: 12.8 }),
  lg({ left: 102, top: 700.6, data: ['τ = 240 ps', 'τ = 9.4 ps (x 5)', 'τ = 0.5 ps (x 1.6)'], iw: 24, fs: 11, lh: 13.35 }),
  lg({ left: 216, top: 700.6, data: ['Fe(II) - Fe(III)', 'Fe(III) GSB', 'Fe(IV) - Fe(III)'], iw: 28, fs: 11, lh: 13.35 })
];
const letter = (t, l, tp) => ({ text: t, left: l, top: tp, padding: 0, textStyle: { fontFamily: FSERIF, fontWeight: 'bold', fontSize: 14, color: '#111' } });
const title = [
  letter('a)', 36, 0), letter('b)', 367, 0), letter('c)', 37, 245), letter('d)', 370, 243), letter('e)', 39, 514), letter('f)', 372, 519),
  { text: 'Time / ps', left: 495, top: 505, padding: 0, textStyle: { fontFamily: FF, fontWeight: 'normal', fontSize: 11, color: '#111' } }
];

const chart = echarts.init(document.getElementById('c'), null, { renderer: 'canvas' });
chart.setOption({ animation: false, backgroundColor: '#ffffff', title, legend, grid, xAxis, yAxis, series });
// axis-break marks on panel d
const xb = chart.convertToPixel({ xAxisIndex: 6 }, 50);
const yTop = chart.convertToPixel({ yAxisIndex: 6 }, 0.0602);
const yBot = chart.convertToPixel({ yAxisIndex: 6 }, -0.015);
chart.setOption({ graphic: [
  { type: 'line', shape: { x1: xb - 2.5, y1: yTop + 5, x2: xb + 2.5, y2: yTop - 5 }, style: { stroke: '#111', lineWidth: 1.2 } },
  { type: 'line', shape: { x1: xb - 2.5, y1: yBot + 5, x2: xb + 2.5, y2: yBot - 5 }, style: { stroke: '#111', lineWidth: 1.2 } }
] });
</script></body></html>
